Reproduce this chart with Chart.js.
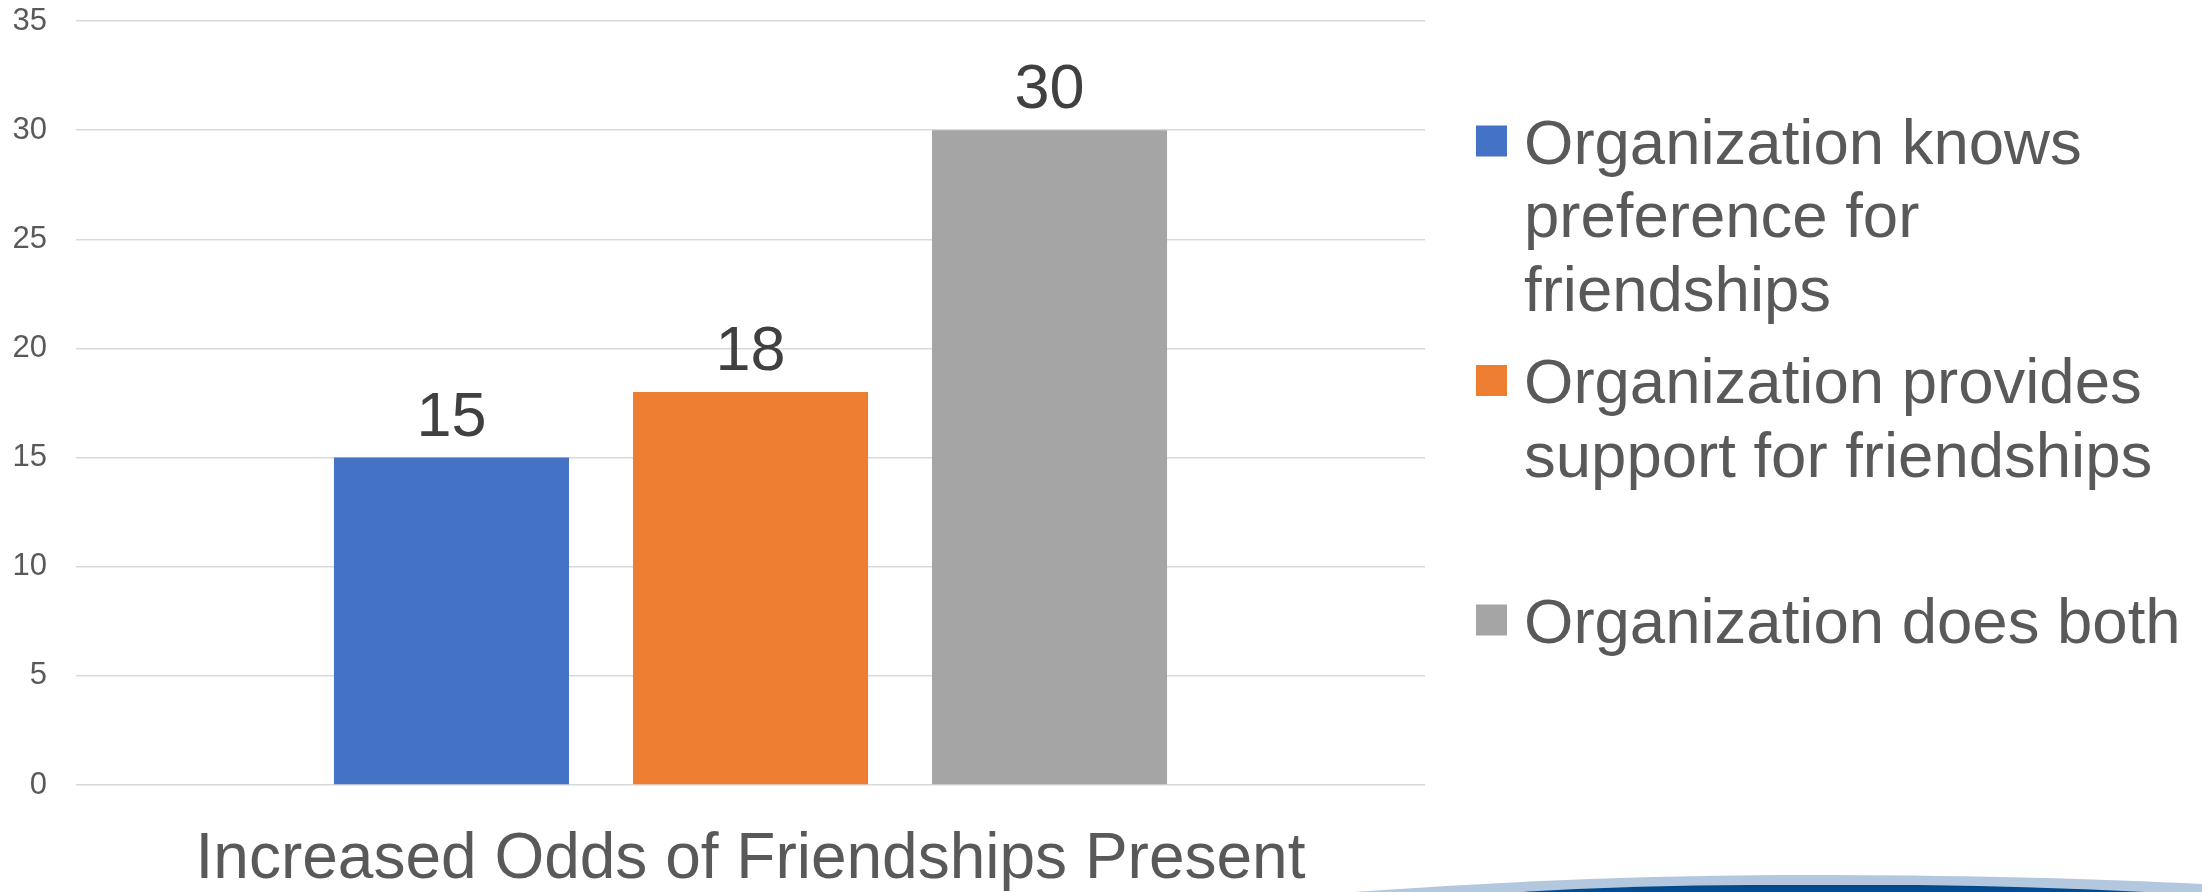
<!DOCTYPE html>
<html>
<head>
<meta charset="utf-8">
<script src="https://cdn.jsdelivr.net/npm/chart.js@4/dist/chart.umd.min.js"></script>
<style>
  html, body { margin: 0; padding: 0; background: #ffffff; }
  #wrap { position: relative; width: 2202px; height: 892px; overflow: hidden; }
  #chart { position: absolute; left: 0; top: 0; }
  #swoosh { position: absolute; left: 0; top: 0; pointer-events: none; }
</style>
</head>
<body>
<div id="wrap">
  <canvas id="chart" width="2202" height="892"></canvas>
  <svg id="swoosh" width="2202" height="892" viewBox="0 0 2202 892">
    <path d="M1353 892 Q1600 874 1834 875 Q2050 876 2202 884 L2202 892 Z" fill="#b3c8de"/>
    <path d="M1520 892 Q1640 885 1751 885 L1918 885 Q2050 887 2144 892 Z" fill="#004a8f"/>
  </svg>
</div>
<script>
const categories = [''];
const seriesNames = [
  ['Organization knows', 'preference for', 'friendships'],
  ['Organization provides', 'support for friendships'],
  ['Organization does both']
];
const seriesValues = [[15], [18], [30]];
const seriesColors = ['#4472C4', '#ED7D31', '#A5A5A5'];
const yTicks = [0, 5, 10, 15, 20, 25, 30, 35];
const axisTitle = 'Increased Odds of Friendships Present';

const FONT = "'Liberation Sans', Arial, Helvetica, sans-serif";

const valueLabels = {
  id: 'valueLabels',
  afterDatasetsDraw(chart) {
    const ctx = chart.ctx;
    ctx.save();
    ctx.font = '63px ' + FONT;
    ctx.fillStyle = '#404040';
    ctx.textAlign = 'center';
    ctx.textBaseline = 'alphabetic';
    chart.data.datasets.forEach((ds, i) => {
      const meta = chart.getDatasetMeta(i);
      meta.data.forEach((bar, j) => {
        ctx.fillText(String(ds.data[j]), bar.x, bar.y - 22);
      });
    });
    ctx.restore();
  }
};

const sideLegend = {
  id: 'sideLegend',
  afterDraw(chart) {
    const ctx = chart.ctx;
    const boxX = 1476, box = 31, textX = 1524, lineH = 73.5;
    const firstCenter = 141, itemGap = 239.5;
    ctx.save();
    ctx.font = '63.5px ' + FONT;
    ctx.textAlign = 'left';
    ctx.textBaseline = 'alphabetic';
    chart.data.datasets.forEach((ds, i) => {
      const cy = firstCenter + i * itemGap;
      ctx.fillStyle = ds.backgroundColor;
      ctx.fillRect(boxX, cy - box / 2, box, box);
      ctx.fillStyle = '#595959';
      seriesNames[i].forEach((line, k) => {
        const lc = cy + k * lineH;
        ctx.fillText(line, textX, lc + 22.5);
      });
    });
    ctx.restore();
  }
};

new Chart(document.getElementById('chart'), {
  type: 'bar',
  data: {
    labels: categories,
    datasets: seriesValues.map((vals, i) => ({
      label: seriesNames[i].join(' '),
      data: vals,
      backgroundColor: seriesColors[i],
      borderWidth: 0,
      categoryPercentage: 0.665,
      barPercentage: 0.786
    }))
  },
  options: {
    responsive: false,
    animation: false,
    devicePixelRatio: 1,
    layout: { padding: { left: 0, right: 777, top: 21, bottom: 0 } },
    plugins: {
      legend: { display: false },
      tooltip: { enabled: false },
      title: { display: false }
    },
    scales: {
      x: {
        grid: { display: false, drawTicks: false },
        border: { display: false },
        ticks: { display: false },
        title: {
          display: true,
          text: axisTitle,
          color: '#595959',
          font: { family: FONT, size: 64, lineHeight: 1.0 },
          padding: 0
        },
        afterFit(scale) {
          scale.height = 107;
          scale.paddingLeft = 0; scale.paddingRight = 0;
        }
      },
      y: {
        min: 0,
        max: 35,
        afterBuildTicks(scale) { scale.ticks = yTicks.map(v => ({ value: v })); },
        grid: { color: '#d9d9d9', lineWidth: 1.5, drawTicks: false },
        border: { display: false },
        ticks: {
          color: '#595959',
          font: { family: FONT, size: 31 },
          padding: 29
        },
        afterFit(scale) {
          scale.width = 76;
          scale.paddingTop = 0; scale.paddingBottom = 0;
        }
      }
    }
  },
  plugins: [valueLabels, sideLegend]
});
</script>
</body>
</html>
